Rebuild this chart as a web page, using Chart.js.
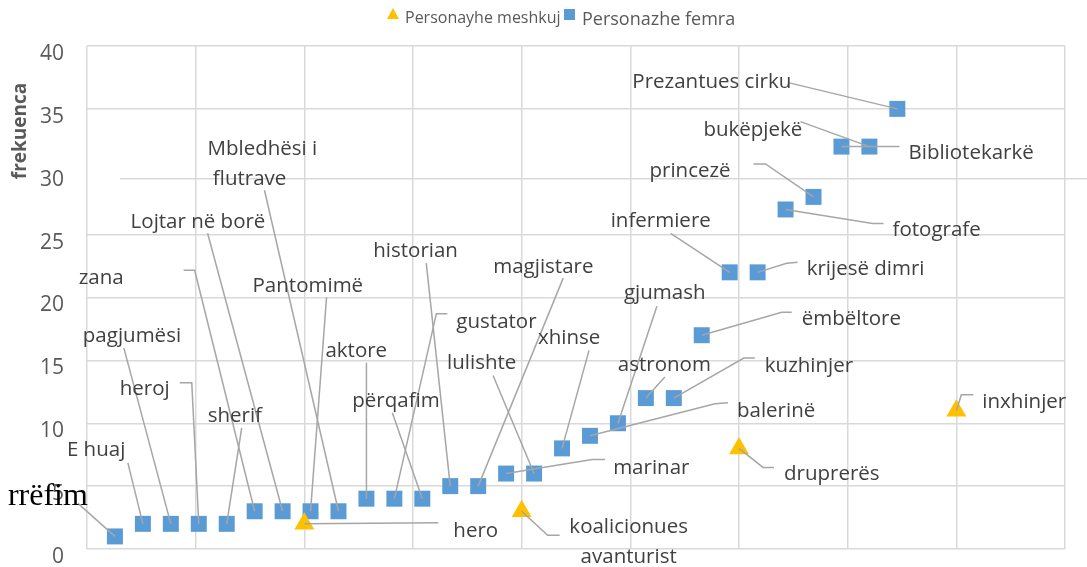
<!DOCTYPE html>
<html>
<head>
<meta charset="utf-8">
<script src="https://cdn.jsdelivr.net/npm/chart.js@4.4.0/dist/chart.umd.min.js"></script>
<style>html,body{margin:0;background:#fff}</style>
</head>
<body>
<canvas id="chart" width="1087" height="567"></canvas>
<script>
const seriesNames = ['Personayhe meshkuj', 'Personazhe femra'];
const yTitle = 'frekuenca';
const yTicks = [0, 5, 10, 15, 20, 25, 30, 35, 40];

const maleX = [1, 2, 3, 4];
const maleY = [2, 3, 8, 11];
const maleNames = ['hero', 'koalicionues avanturist', 'druprerës', 'inxhinjer'];

const femaleX = [1, 2, 3, 4, 5, 6, 7, 8, 9, 10, 11, 12, 13, 14, 15, 16, 17, 18, 19, 20, 21, 22, 23, 24, 25, 26, 27, 28, 29];
const femaleY = [1, 2, 2, 2, 2, 3, 3, 3, 3, 4, 4, 4, 5, 5, 6, 6, 8, 9, 10, 12, 12, 17, 22, 22, 27, 28, 32, 32, 35];
const femaleNames = ['rrëfim', 'E huaj', 'pagjumësi', 'heroj', 'sherif', 'zana', 'Lojtar në borë', 'Pantomimë',
  'Mbledhësi i flutrave', 'aktore', 'gustator', 'përqafim', 'historian', 'magjistare', 'marinar', 'lulishte',
  'xhinse', 'balerinë', 'gjumash', 'astronom', 'kuzhinjer', 'ëmbëltore', 'infermiere', 'krijesë dimri',
  'fotografe', 'princezë', 'Bibliotekarkë', 'bukëpjekë', 'Prezantues cirku'];

// where each data label sits, in px from its marker: t = text, s = leader start, e = leader elbow
const malePlace = [
  {t: [149, 13], s: [134, -1]},
  {t: [107, 22], s: [38, 24], e: [26, 24], align: 'center', wrap: 12},
  {t: [45, 32], s: [35, 19], e: [24, 19]},
  {t: [26, -3], s: [17, -16], e: [5, -16]}
];
const femalePlace = [
  {t: [-107, -31], s: [-37, -33], font: '32px "Liberation Serif"', color: '#000'},
  {t: [-76, -68], s: [-15, -61]},
  {t: [-88, -182], s: [-47, -176]},
  {t: [-79, -129], s: [-19, -141], e: [-7, -141]},
  {t: [-19, -102], s: [15, -96]},
  {t: [-176, -227], s: [-71, -241], e: [-60, -241]},
  {t: [-152, -283], s: [-75, -278]},
  {t: [-58, -219], s: [16, -214]},
  {t: [-131, -356], s: [-74, -321], wrap: 11},
  {t: [-41, -142], s: [0, -136]},
  {t: [62, -171], s: [53, -185], e: [42, -185]},
  {t: [-70, -92], s: [-30, -86]},
  {t: [-77, -229], s: [-24, -223]},
  {t: [15, -213], s: [85, -208]},
  {t: [107, 0], s: [99, -14], e: [86, -14]},
  {t: [-87, -105], s: [-41, -98]},
  {t: [-24, -104], s: [27, -98]},
  {t: [147, -19], s: [138, -33], e: [125, -32]},
  {t: [6, -124], s: [39, -117]},
  {t: [-28, -27], s: [19, -21]},
  {t: [91, -26], s: [81, -40], e: [70, -40]},
  {t: [100, -10], s: [90, -23], e: [80, -23]},
  {t: [-119, -45], s: [-59, -39]},
  {t: [49, 3], s: [40, -10], e: [29, -9]},
  {t: [107, 27], s: [98, 14], e: [87, 14]},
  {t: [-164, -20], s: [-60, -33], e: [-48, -33]},
  {t: [67, 12], s: [58, 0]},
  {t: [-166, -11], s: [-69, -25]},
  {t: [-265, -21], s: [-108, -26]}
];

const GRID = '#d9d9d9';
const ORANGE = '#ffc000';
const BLUE = '#5b9bd5';

function pointsOf(xs, ys) {
  return xs.map((v, i) => ({x: v, y: ys[i]}));
}

function drawLeaders(chart, idx, place) {
  const ctx = chart.ctx;
  ctx.save();
  ctx.strokeStyle = '#a6a6a6';
  ctx.lineWidth = 1.5;
  chart.getDatasetMeta(idx).data.forEach((p, i) => {
    const pl = place[i];
    ctx.beginPath();
    ctx.moveTo(p.x + pl.s[0], p.y + pl.s[1]);
    if (pl.e) ctx.lineTo(p.x + pl.e[0], p.y + pl.e[1]);
    ctx.lineTo(p.x, p.y);
    ctx.stroke();
  });
  ctx.restore();
}

function drawTexts(chart, idx, names, place) {
  const ctx = chart.ctx;
  ctx.save();
  ctx.textBaseline = 'alphabetic';
  chart.getDatasetMeta(idx).data.forEach((p, i) => {
    const pl = place[i];
    ctx.font = pl.font || '20.5px "Open Sans"';
    ctx.fillStyle = pl.color || '#404040';
    ctx.textAlign = pl.align || 'left';
    let lines = [names[i]];
    if (pl.wrap) lines = [names[i].slice(0, pl.wrap), names[i].slice(pl.wrap)];
    if (pl.align === 'center') lines = lines.map(s => s.trim());
    lines.forEach((s, k) => ctx.fillText(s, p.x + pl.t[0], p.y + pl.t[1] + k * 30));
  });
  ctx.restore();
}

const extras = {
  id: 'extras',
  beforeDatasetsDraw(chart) {
    // the stray line just under the 30 level
    const ctx = chart.ctx;
    const yy = chart.scales.y.getPixelForValue(30) + 7;
    ctx.save();
    ctx.strokeStyle = GRID;
    ctx.lineWidth = 1.5;
    ctx.beginPath();
    ctx.moveTo(chart.chartArea.left + 33, yy);
    ctx.lineTo(chart.width, yy);
    ctx.stroke();
    ctx.restore();
  },
  afterDatasetsDraw(chart) {
    drawLeaders(chart, 0, malePlace);
    drawLeaders(chart, 1, femalePlace);
    drawTexts(chart, 0, maleNames, malePlace);
    drawTexts(chart, 1, femaleNames, femalePlace);
  },
  afterDraw(chart) {
    const ctx = chart.ctx;
    ctx.save();
    // axis title
    ctx.translate(21, 131);
    ctx.rotate(-Math.PI / 2);
    ctx.font = 'bold 19px "Open Sans"';
    ctx.fillStyle = '#595959';
    ctx.textAlign = 'center';
    ctx.textBaseline = 'middle';
    ctx.fillText(yTitle, 0, 0);
    ctx.restore();

    // legend
    ctx.save();
    ctx.fillStyle = ORANGE;
    ctx.beginPath();
    ctx.moveTo(393, 8);
    ctx.lineTo(399, 19);
    ctx.lineTo(387, 19);
    ctx.closePath();
    ctx.fill();
    ctx.fillStyle = BLUE;
    ctx.fillRect(564, 9, 11, 11);
    ctx.fillStyle = '#595959';
    ctx.textAlign = 'left';
    ctx.textBaseline = 'alphabetic';
    ctx.font = '16px "Open Sans"';
    ctx.fillText(chart.data.datasets[0].label, 405, 23);
    ctx.font = '18px "Open Sans"';
    ctx.fillText(chart.data.datasets[1].label, 582, 25);
    ctx.restore();
  }
};

new Chart(document.getElementById('chart'), {
  type: 'scatter',
  data: {
    datasets: [
      {
        label: seriesNames[0],
        data: pointsOf(maleX, maleY),
        xAxisID: 'x2',
        pointStyle: 'triangle',
        pointRadius: 11.5,
        backgroundColor: ORANGE,
        borderWidth: 0
      },
      {
        label: seriesNames[1],
        data: pointsOf(femaleX, femaleY),
        xAxisID: 'x',
        pointStyle: 'rect',
        pointRadius: 11.3,
        backgroundColor: BLUE,
        borderWidth: 0
      }
    ]
  },
  options: {
    responsive: false,
    animation: false,
    devicePixelRatio: 1,
    layout: {padding: {top: 46, right: 22, bottom: 18, left: 0}},
    plugins: {legend: {display: false}, tooltip: {enabled: false}},
    scales: {
      x: {type: 'linear', min: 0, max: 35, display: false},
      x2: {
        type: 'linear', position: 'bottom', min: 0, max: 4.5,
        afterFit: s => { s.height = 0; },
        ticks: {display: false, stepSize: 0.5, padding: 0},
        grid: {color: GRID, lineWidth: 1.5, drawTicks: false},
        border: {display: false}
      },
      y: {
        min: 0, max: 40,
        afterBuildTicks: s => { s.ticks = yTicks.map(v => ({value: v})); },
        afterFit: s => { s.width = 87; s.paddingTop = 0; s.paddingBottom = 0; },
        ticks: {color: '#595959', font: {family: '"Open Sans"', size: 21}, padding: 23, labelOffset: 8},
        grid: {
          color: c => (c.tick && c.tick.value === 30 ? 'rgba(0,0,0,0)' : GRID),
          lineWidth: 1.5, drawTicks: false
        },
        border: {display: false}
      }
    }
  },
  plugins: [extras]
});
</script>
</body>
</html>
